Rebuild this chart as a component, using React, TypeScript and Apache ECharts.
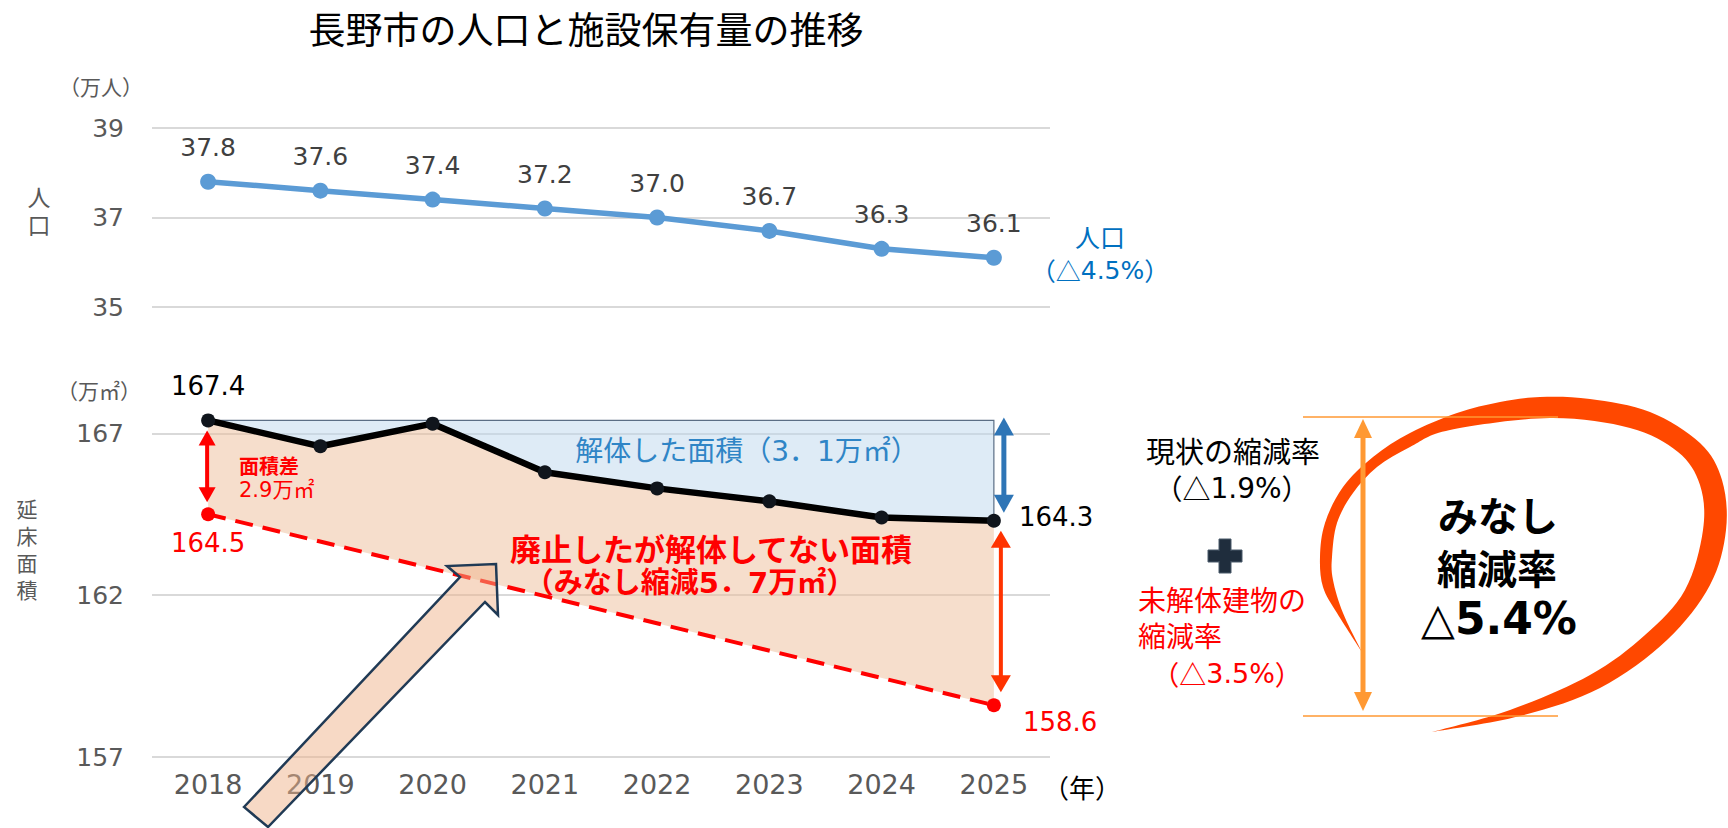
import React, { useEffect, useRef } from 'react';
import * as echarts from 'echarts';

// ---------- data ----------
const years = ['2018', '2019', '2020', '2021', '2022', '2023', '2024', '2025'];
const population = [37.8, 37.6, 37.4, 37.2, 37.0, 36.7, 36.3, 36.1];
const floorArea = [167.4, 166.6, 167.3, 165.8, 165.3, 164.9, 164.4, 164.3];
const deemedArea: (number | null)[] = [164.5, null, null, null, null, null, null, 158.6];
const popAxis = { min: 35, max: 39, interval: 2 };
const areaAxis = { min: 157, max: 168, interval: 5 };

const NUM_FONT = "'DejaVu Sans', 'Noto Sans CJK JP', sans-serif";
const JP_FONT = "'Noto Sans CJK JP', 'DejaVu Sans', sans-serif";
const MIX_FONT = "'DejaVu Sans', 'Noto Sans CJK JP', sans-serif";

// ---------- decorative swoosh ----------
const outerPts = [
  [1432, 732], [1520, 716], [1600, 688], [1667, 640], [1710, 585], [1726, 530], [1722, 480],
  [1700, 443], [1650, 412], [1590, 399], [1540, 397], [1500, 402], [1457, 413], [1410, 433],
  [1373, 457], [1343, 487], [1325, 523], [1320, 557], [1323, 587], [1337, 613], [1362, 652],
];
const innerPts = [
  [1362, 652], [1343, 613], [1333, 580], [1332, 557], [1337, 523], [1353, 493], [1377, 467],
  [1410, 447], [1450, 430], [1550, 418], [1630, 428], [1678, 452], [1700, 485], [1703, 530],
  [1685, 590], [1645, 635], [1590, 675], [1510, 710], [1432, 732],
];
function crPath(pts: number[][]) {
  let d = '';
  for (let i = 0; i < pts.length - 1; i++) {
    const p0 = pts[Math.max(0, i - 1)];
    const p1 = pts[i];
    const p2 = pts[i + 1];
    const p3 = pts[Math.min(pts.length - 1, i + 2)];
    const c1 = [p1[0] + (p2[0] - p0[0]) / 6, p1[1] + (p2[1] - p0[1]) / 6];
    const c2 = [p2[0] - (p3[0] - p1[0]) / 6, p2[1] - (p3[1] - p1[1]) / 6];
    d += ` C ${c1[0].toFixed(1)} ${c1[1].toFixed(1)} ${c2[0].toFixed(1)} ${c2[1].toFixed(1)} ${p2[0]} ${p2[1]}`;
  }
  return d;
}
const swooshD = `M ${outerPts[0][0]} ${outerPts[0][1]}` + crPath(outerPts) + crPath(innerPts) + ' Z';
echarts.graphic.registerShape('swoosh', echarts.graphic.extendPath(swooshD, {}));

function txt(text: string, x: number, y: number, size: number, color: string, extra: any = {}) {
  const align = extra.align || 'center';
  return {
    type: 'text',
    x,
    y,
    z: 120,
    style: {
      text,
      fill: color,
      fontSize: size,
      fontFamily: extra.fontFamily || JP_FONT,
      fontWeight: extra.fontWeight || 'normal',
      align,
      textAlign: align,
      verticalAlign: 'middle',
      textVerticalAlign: 'middle',
      rich: extra.rich,
    },
  };
}

// "（△x%）" with CJK brackets/triangle and Latin digits
function pctText(num: string, x: number, y: number, size: number, color: string) {
  return txt(`{p|（△}{n|${num}}{p|）}`, x, y, size, color, {
    rich: {
      p: { fontFamily: JP_FONT, fontSize: size, fill: color },
      n: { fontFamily: NUM_FONT, fontSize: size, fill: color },
    },
  });
}

function vText(chars: string, x: number, yCenter: number, size: number, step: number, color: string) {
  const arr = chars.split('');
  const y0 = yCenter - ((arr.length - 1) * step) / 2;
  return arr.map((c, i) => txt(c, x, y0 + i * step, size, color));
}

function vArrow(x: number, y1: number, y2: number, color: string, shaftW: number, headW: number, headL: number) {
  return [
    { type: 'line', shape: { x1: x, y1: y1 + headL - 1, x2: x, y2: y2 - headL + 1 }, style: { stroke: color, lineWidth: shaftW } },
    { type: 'polygon', shape: { points: [[x, y1], [x - headW / 2, y1 + headL], [x + headW / 2, y1 + headL]] }, style: { fill: color } },
    { type: 'polygon', shape: { points: [[x, y2], [x - headW / 2, y2 - headL], [x + headW / 2, y2 - headL]] }, style: { fill: color } },
  ];
}

export default function App() {
  const ref = useRef<HTMLDivElement>(null);

  useEffect(() => {
    if (!ref.current) return;
    const chart = echarts.init(ref.current, undefined, { renderer: 'svg' });
    const n = years.length;

    const floorData = floorArea.map((v, i) => {
      if (i === 0) return { value: v, label: { show: true, position: 'top', distance: 14 } };
      if (i === n - 1) return { value: v, label: { show: true, position: 'right', distance: 18, offset: [0, -4] } };
      return v;
    });
    const deemedData = deemedArea.map((v, i) => {
      if (v == null) return '-';
      if (i === 0) return { value: v, label: { show: true, position: 'bottom', distance: 9 } };
      return { value: v, label: { show: true, position: 'right', distance: 22, offset: [0, 17] } };
    });

    const option: any = {
      animation: false,
      backgroundColor: '#ffffff',
      grid: [
        { left: 152, width: 898, top: 128, height: 179 },
        { left: 152, width: 898, top: 401, height: 356 },
      ],
      xAxis: [
        {
          type: 'category', gridIndex: 0, data: years, boundaryGap: true,
          axisLine: { show: false }, axisTick: { show: false }, axisLabel: { show: false },
        },
        {
          type: 'category', gridIndex: 1, data: years, boundaryGap: true,
          axisLine: { show: false }, axisTick: { show: false },
          axisLabel: { fontSize: 27, color: '#595959', margin: 14, fontFamily: NUM_FONT },
        },
      ],
      yAxis: [
        {
          type: 'value', gridIndex: 0, min: popAxis.min, max: popAxis.max, interval: popAxis.interval,
          axisLine: { show: false }, axisTick: { show: false },
          axisLabel: { fontSize: 25, color: '#595959', margin: 28, fontFamily: NUM_FONT },
          splitLine: { lineStyle: { color: '#D9D9D9', width: 2 } },
        },
        {
          type: 'value', gridIndex: 1, min: areaAxis.min, max: areaAxis.max, interval: areaAxis.interval,
          axisLine: { show: false }, axisTick: { show: false },
          axisLabel: { fontSize: 25, color: '#595959', margin: 28, fontFamily: NUM_FONT, showMaxLabel: false },
          splitLine: { showMaxLine: false, lineStyle: { color: '#D9D9D9', width: 2 } },
        },
      ],
      series: [
        {
          type: 'line', xAxisIndex: 0, yAxisIndex: 0, data: population, z: 3,
          symbol: 'circle', symbolSize: 16,
          itemStyle: { color: '#5B9BD5' },
          lineStyle: { color: '#5B9BD5', width: 5.5 },
          label: {
            show: true, position: 'top', distance: 14, fontSize: 25, color: '#404040', fontFamily: NUM_FONT,
            formatter: (p: any) => Number(p.value).toFixed(1),
          },
        },
        {
          type: 'custom', xAxisIndex: 1, yAxisIndex: 1, z: 1, silent: true,
          data: [[0, floorArea[0]]],
          renderItem: (_params: any, api: any) => {
            const line = floorArea.map((v, i) => api.coord([i, v]));
            const topL = api.coord([0, floorArea[0]]);
            const topR = api.coord([n - 1, floorArea[0]]);
            const dA = api.coord([0, deemedArea[0]]);
            const dB = api.coord([n - 1, deemedArea[n - 1]]);
            const blue = [topL, topR, ...line.slice().reverse()];
            const peach = [...line, dB, dA];
            return {
              type: 'group',
              children: [
                { type: 'polygon', shape: { points: peach }, style: { fill: 'rgba(237,189,153,0.5)' } },
                { type: 'polygon', shape: { points: blue }, style: { fill: 'rgba(189,215,238,0.5)', stroke: '#5B6E85', lineWidth: 1.2 } },
              ],
            };
          },
        },
        {
          type: 'line', xAxisIndex: 1, yAxisIndex: 1, data: deemedData, z: 3, connectNulls: true,
          symbol: 'circle', symbolSize: 14,
          itemStyle: { color: '#FF0000' },
          lineStyle: { color: '#FF0000', width: 4, type: [18, 10] },
          label: { show: false, fontSize: 26, color: '#FF0000', fontFamily: NUM_FONT },
        },
        {
          type: 'line', xAxisIndex: 1, yAxisIndex: 1, data: floorData, z: 4,
          symbol: 'circle', symbolSize: 14,
          itemStyle: { color: '#10151C' },
          lineStyle: { color: '#000000', width: 6.5 },
          label: { show: false, fontSize: 26, color: '#000000', fontFamily: NUM_FONT },
        },
        {
          type: 'custom', xAxisIndex: 1, yAxisIndex: 1, z: 5, silent: true,
          data: [[0, floorArea[0]]],
          renderItem: (_params: any, api: any) => {
            const a0 = api.coord([0, floorArea[0]]);
            const b0 = api.coord([0, deemedArea[0]]);
            const topR = api.coord([n - 1, floorArea[0]]);
            const endF = api.coord([n - 1, floorArea[n - 1]]);
            const endD = api.coord([n - 1, deemedArea[n - 1]]);
            return {
              type: 'group',
              children: [
                ...vArrow(a0[0] - 1, a0[1] + 10, b0[1] - 12, '#FF0000', 4, 17, 15),
                ...vArrow(topR[0] + 10, topR[1] - 3, endF[1] - 8, '#2E75B6', 5, 20, 18),
                ...vArrow(endF[0] + 7, endF[1] + 10, endD[1] - 13, '#FF3300', 4, 20, 17),
              ],
            };
          },
        },
      ],
      graphic: [
        // title & axis captions
        txt('長野市の人口と施設保有量の推移', 586, 28, 37, '#000000'),
        txt('（万人）', 101, 86, 21, '#595959'),
        ...vText('人口', 39, 210, 23, 28, '#595959'),
        txt('（万㎡）', 99, 390, 21, '#595959'),
        ...vText('延床面積', 27, 548, 21, 27, '#595959'),
        txt('（年）', 1082, 786, 26, '#000000'),
        // population note
        txt('人口', 1100, 236, 25, '#0070C0'),
        pctText('4.5%', 1100, 270, 25, '#0070C0'),
        // chart annotations
        txt('解体した面積（3．1万㎡）', 747, 451, 28, '#2F85C6', { fontFamily: MIX_FONT }),
        txt('廃止したが解体してない面積', 711, 547, 31, '#FF0000', { fontWeight: 'bold' }),
        txt('（みなし縮減5．7万㎡）', 690, 583, 29, '#FF0000', { fontWeight: 'bold', fontFamily: MIX_FONT }),
        txt('面積差', 239, 465, 20, '#FF0000', { align: 'left', fontWeight: 'bold' }),
        txt('2.9万㎡', 239, 490, 21, '#FF0000', { align: 'left', fontFamily: MIX_FONT }),
        // big hollow arrow
        {
          type: 'polygon', z: 100,
          shape: { points: [[244, 807], [460, 577], [447, 566], [496, 564], [498, 615], [485, 602], [268, 827]] },
          style: { fill: 'rgba(240,180,140,0.5)', stroke: '#203A55', lineWidth: 2.5, lineJoin: 'miter' },
        },
        // swoosh
        { type: 'swoosh', x: 0, y: 0, z: 90, style: { fill: '#FF4800' } },
        // orange guides
        { type: 'line', z: 95, shape: { x1: 1303, y1: 417, x2: 1558, y2: 417 }, style: { stroke: '#FF9933', lineWidth: 1.5 } },
        { type: 'line', z: 95, shape: { x1: 1303, y1: 716, x2: 1558, y2: 716 }, style: { stroke: '#FF9933', lineWidth: 1.5 } },
        { type: 'group', z: 96, children: vArrow(1363, 419, 711, '#FF9933', 5, 18, 19).map((e: any) => ({ ...e, z: 96 })) },
        // right-hand texts
        txt('現状の縮減率', 1233, 450, 29, '#000000'),
        pctText('1.9%', 1232, 488, 28, '#000000'),
        {
          type: 'group', z: 110,
          children: [
            { type: 'rect', shape: { x: 1208, y: 550, width: 34, height: 12 }, style: { fill: '#1F2D3D', stroke: '#4A5A6A', lineWidth: 1 } },
            { type: 'rect', shape: { x: 1219, y: 539, width: 12, height: 34 }, style: { fill: '#1F2D3D', stroke: '#4A5A6A', lineWidth: 1 } },
            { type: 'rect', shape: { x: 1209, y: 551, width: 32, height: 10 }, style: { fill: '#1F2D3D' } },
          ],
        },
        txt('未解体建物の', 1138, 599, 28, '#FF0000', { align: 'left' }),
        txt('縮減率', 1138, 635, 28, '#FF0000', { align: 'left' }),
        pctText('3.5%', 1227, 673, 27, '#FF0000'),
        txt('みなし', 1498, 514, 40, '#000000', { fontWeight: 'bold' }),
        txt('縮減率', 1497, 567, 40, '#000000', { fontWeight: 'bold' }),
        txt('△5.4%', 1499, 618, 44, '#000000', { fontWeight: 'bold', fontFamily: MIX_FONT }),
      ],
    };

    chart.setOption(option);
    return () => chart.dispose();
  }, []);

  return (
    <div
      ref={ref}
      style={{ position: 'fixed', left: 0, top: 0, width: 1728, height: 828, background: '#fff' }}
    />
  );
}
